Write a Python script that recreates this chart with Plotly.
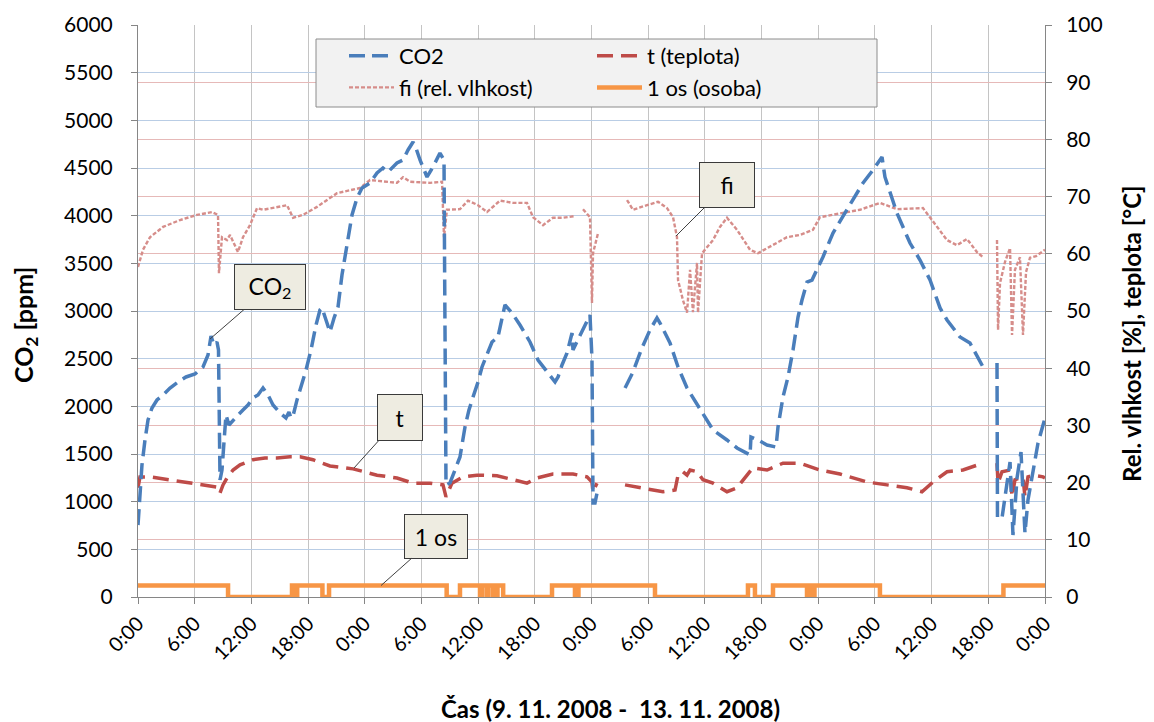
import plotly.graph_objects as go

# ---------------- data (time in hours from 9.11.2008 0:00) ----------------
co2_hours = [0.00, 0.21, 0.42, 0.74, 1.06, 1.48, 2.01, 2.65, 3.39, 4.23, 5.08, 6.03, 6.88, 7.41, 7.73, 8.04,
             8.36, 8.52, 8.68, 8.89, 9.10, 9.31, 9.63, 10.05, 10.58, 11.11, 11.64, 12.17, 12.70, 13.23, 13.76,
             14.29, 15.03, 15.66, 15.98, 16.19, 16.41, 16.83, 17.46, 17.78, 18.31, 18.84, 19.26, 19.48, 19.90,
             20.32, 20.75, 21.17, 21.59, 22.12, 22.65, 23.18, 23.71, 24.56, 25.30, 25.93, 26.46, 27.41, 28.05,
             28.58, 29.11, 29.42, 29.85, 30.59, 31.22, 31.96, 32.39, 32.45, 32.60, 33.02, 33.55, 34.08, 34.61,
             35.03, 35.46, 35.99, 36.41, 36.94, 37.47, 38.10, 38.53, 38.84, 39.59, 40.43, 41.49, 42.34, 43.40,
             44.14, 44.46, 44.88, 45.41, 45.94, 46.04, 46.57, 47.10, 47.84, 48.05, 48.16, 48.37, 48.69, None,
             51.55, 52.39, 53.34, 54.19, 54.93, 55.25, 56.31, 57.16, 58.11, 59.48, 60.86, 62.34, 63.40, 64.78,
             64.88, 65.62, 66.58, 67.53, 67.74, 68.27, 68.80, 69.33, 69.86, 70.28, 70.81, 71.34, 72.50, 73.56,
             75.04, 76.74, 77.79, 78.75, 79.06, 80.33, 81.71, 82.77, 83.83, 84.89, 85.63, 87.00, 88.06, 89.44,
             None, 90.92, 90.97, 91.45, 91.87, 92.30, 92.61, 93.04, 93.46, 93.88, 94.20, 94.73, 95.26, 96.00]
co2_ppm = [755, 1122, 1385, 1647, 1857, 1983, 2067, 2119, 2192, 2255, 2308, 2339, 2413, 2539, 2738, 2643,
           2675, 2591, 1227, 1332, 1647, 1909, 1804, 1857, 1909, 1962, 2014, 2088, 2119, 2192, 2119,
           2014, 1930, 1878, 1941, 1878, 1900, 2067, 2276, 2380, 2591, 2853, 3011, 3032, 2906,
           2780, 2927, 3042, 3378, 3693, 4007, 4186, 4290, 4343, 4448, 4500, 4458, 4553, 4584,
           4689, 4773, 4710, 4584, 4406, 4511, 4657, 4584, 3500, 1175, 1196, 1332, 1469, 1783,
           1962, 2098, 2255, 2413, 2539, 2675, 2727, 2906, 3063, 2979, 2853, 2675, 2486, 2350,
           2255, 2308, 2434, 2560, 2769, 2591, 2696, 2801, 2958, 2500, 986, 986, 1143, None,
           2192, 2360, 2612, 2801, 2927, 2874, 2664, 2413, 2192, 1972, 1752, 1647, 1563, 1490,
           1678, 1647, 1594, 1573, 1783, 2098, 2308, 2591, 2937, 3115, 3304, 3325, 3567, 3818,
           4060, 4343, 4479, 4616, 4406, 4028, 3713, 3535, 3325, 3032, 2906, 2727, 2664, 2413,
           None, 2455, 829, 829, 1122, 1416, 650, 1248, 1521, 671, 1018, 1301, 1615, 1878]

temp_hours = [0.00, 0.21, 1.27, 2.86, 4.45, 6.56, 8.47, 8.68, 9.00, 9.42, 10.06, 10.80, 12.17, 13.44, 14.71,
              16.09, 17.15, 18.52, 20.32, 22.76, 25.30, 27.41, 29.11, 30.91, 32.28, 32.60, 33.23, 34.40,
              35.88, 38.00, 39.69, 41.17, 42.23, 43.92, 46.04, 47.52, 48.05, 48.16, 48.58, None,
              51.55, 53.13, 54.51, 55.57, 56.84, 57.16, 57.68, 58.11, 58.43, 59.17, 59.80, 60.86, 62.34,
              63.40, 65.09, 66.58, 68.27, 70.07, 72.18, 74.30, 77.16, 79.28, 81.39, 82.98, 84.14, 85.63,
              87.32, 89.44, None, 90.92, 91.03, 91.45, 92.30, 92.51, 92.82, 93.67, 93.88, 94.20, 94.73,
              95.79, 96.00]
temp_c = [19.1, 21.0, 21.0, 20.6, 20.1, 19.6, 19.2, 18.2, 19.6, 20.8, 22.2, 23.1, 24.0, 24.3, 24.3,
          24.5, 24.5, 24.0, 22.9, 22.4, 21.3, 20.8, 19.9, 19.9, 19.6, 17.5, 19.9, 21.0,
          21.3, 21.2, 20.5, 19.9, 20.8, 21.5, 21.5, 21.0, 20.1, 18.4, 19.9, None,
          19.6, 19.2, 18.7, 18.4, 18.7, 21.3, 21.9, 21.3, 22.2, 21.9, 20.5, 19.9, 18.4,
          19.1, 22.6, 22.2, 23.4, 23.4, 22.2, 21.5, 20.1, 19.6, 19.1, 18.4, 20.1, 21.9,
          22.2, 23.4, None, 23.4, 19.9, 21.9, 22.2, 17.5, 20.5, 21.0, 17.5, 21.0, 21.3,
          21.0, 20.8]

rh_hours = [0.00, 0.53, 1.27, 2.65, 4.45, 6.24, 7.83, 8.47, 8.57, 8.89, 9.42, 9.74, 10.58, 11.11, 11.85,
            12.60, 13.23, 15.77, 16.41, 17.46, 18.95, 21.06, 23.50, 24.56, 27.41, 28.05, 28.79, 30.91,
            32.18, 32.39, 32.70, 34.08, 34.93, 35.99, 36.94, 38.32, 39.69, 41.17, 41.81, 42.87, 43.92,
            44.98, 46.25, None, 47.10, 47.84, 48.05, 48.16, 48.69, None,
            51.76, 52.39, 53.87, 55.04, 55.99, 56.63, 57.05, 57.16, 57.68, 58.11, 58.43, 58.74, 59.17,
            59.27, 59.70, 60.86, 61.60, 62.34, 63.40, 64.78, 65.62, 67.63, 68.69, 70.07, 71.44, 72.18,
            74.30, 76.42, 78.53, 80.33, 83.08, 83.83, 85.63, 86.68, 87.74, 88.80, 89.44, None,
            90.92, 91.03, 91.24, 91.77, 92.30, 92.51, 92.82, 93.35, 93.67, 93.99, 94.41, 95.05, 96.00]
rh_pct = [57.7, 60.7, 62.9, 64.7, 65.9, 66.8, 67.3, 66.8, 56.6, 62.9, 62.4, 63.3, 60.3, 62.9, 65.0,
          68.0, 67.7, 68.5, 66.3, 66.8, 68.2, 70.6, 71.5, 72.9, 72.4, 73.4, 72.6, 72.4,
          72.6, 62.9, 67.7, 67.8, 69.3, 68.5, 67.3, 69.3, 68.9, 68.9, 66.4, 65.0, 66.3,
          66.3, 66.6, None, 67.8, 66.4, 51.4, 60.1, 63.6, None,
          69.4, 67.7, 68.5, 69.1, 68.0, 66.4, 62.9, 55.4, 51.9, 49.7, 57.2, 49.8, 58.4,
          49.7, 60.1, 62.4, 64.7, 66.3, 64.2, 60.7, 60.1, 61.9, 62.9, 63.3, 64.2, 66.4,
          67.1, 67.7, 68.9, 67.8, 68.0, 66.3, 62.4, 61.5, 62.6, 60.3, 59.4, None,
          62.4, 46.7, 54.9, 58.6, 61.0, 45.8, 57.2, 59.4, 45.8, 56.8, 59.3, 59.6, 60.7]

occ_hours = [0.00, 9.53, 16.30, 16.70, 16.85, 19.52, 20.22, 32.67, 34.08, 36.20, 36.40, 36.90, 37.10, 37.60,
             38.05, 38.65, 43.82, 46.25, 46.62, 54.72, 64.56, 65.30, 67.21, 70.81, 71.00, 71.30, 71.60,
             78.53, 91.60, 96.00]
occ_state = [1, 0, 1, 0, 1, 0, 1, 0, 1, 0, 1, 0, 1, 0,
             1, 0, 1, 0, 1, 0, 1, 0, 1, 0, 1, 0, 1,
             0, 1, 1]

tick_hours = list(range(0, 97, 6))
tick_text = ["0:00", "6:00", "12:00", "18:00"] * 4 + ["0:00"]

FONT = "Lato"
BLUE = "#4A7EBB"
RED = "#BE4B48"
PINK = "#D68D8A"
ORANGE = "#F79646"

fig = go.Figure()
fig.add_trace(go.Scatter(x=rh_hours, y=rh_pct, name="fi (rel. vlhkost)", yaxis="y", mode="lines",
                         line=dict(color=PINK, width=2.4, dash="4px,2px"), connectgaps=False,
                         legend="legend", legendrank=2, legendgroup="g3"))
fig.add_trace(go.Scatter(x=temp_hours, y=temp_c, name="t (teplota)", yaxis="y", mode="lines",
                         line=dict(color=RED, width=3.5, dash="16px,8px"), connectgaps=False,
                         legend="legend2", legendrank=1, legendgroup="g2"))
fig.add_trace(go.Scatter(x=occ_hours, y=occ_state, name="1 os (osoba)", yaxis="y2", mode="lines",
                         line=dict(color=ORANGE, width=4.5, shape="hv"),
                         legend="legend2", legendrank=2, legendgroup="g4"))
fig.add_trace(go.Scatter(x=co2_hours, y=co2_ppm, name="CO2", yaxis="y3", mode="lines",
                         line=dict(color=BLUE, width=3.5, dash="16px,7px"), connectgaps=False,
                         legend="legend", legendrank=1, legendgroup="g1"))

axis_line = "#868686"
ytickfont = dict(family=FONT, size=21, color="#000000")
xtickfont = dict(family=FONT, size=20, color="#000000")

# page body has an 8px default margin; the figure is sized so the plot area
# lands at x 138..1045, y 25..597 of the browser window
OFF = 8
PL, PR, PT, PB = 138 - OFF, 1045 - OFF, 25 - OFF, 597 - OFF
W, H = 1154 - OFF, 722 - OFF


def px_x(px):
    return (px - OFF - PL) / (PR - PL)


def px_y(py):
    return (PB - (py - OFF)) / (PB - PT)


fig.update_layout(
    width=W, height=H,
    margin=dict(l=PL, r=W - PR, t=PT, b=H - PB, autoexpand=False),
    paper_bgcolor="white", plot_bgcolor="white",
    font=dict(family=FONT, size=20, color="#000000"),
    xaxis=dict(range=[0, 96], tickmode="array", tickvals=tick_hours, ticktext=tick_text,
               tickangle=-45, tickfont=xtickfont, showgrid=True, gridcolor="#C4C4C4", gridwidth=1,
               showline=True, linecolor=axis_line, linewidth=1, ticks="outside", ticklen=6,
               tickcolor=axis_line, zeroline=False),
    yaxis=dict(range=[0, 100], dtick=10, side="right", tickfont=ytickfont, showgrid=True,
               gridcolor="#E6B9B8", gridwidth=1, showline=True, linecolor=axis_line, linewidth=1,
               ticks="outside", ticklen=6, tickcolor=axis_line, zeroline=False, ticklabelstandoff=10),
    yaxis2=dict(range=[0, 50], overlaying="y", visible=False, showgrid=False),
    yaxis3=dict(range=[0, 6000], dtick=500, side="left", overlaying="y", tickfont=ytickfont,
                showgrid=True, gridcolor="#B9CDE5", gridwidth=1, showline=True, linecolor=axis_line,
                linewidth=1, ticks="outside", ticklen=6, tickcolor=axis_line, zeroline=False,
                ticklabelstandoff=14),
    legend=dict(x=px_x(344), y=px_y(35), xanchor="left", yanchor="top", bgcolor="rgba(0,0,0,0)",
                borderwidth=0, itemwidth=45, traceorder="grouped", tracegroupgap=0,
                font=dict(family=FONT, size=22, color="#000000")),
    legend2=dict(x=px_x(592), y=px_y(35), xanchor="left", yanchor="top", bgcolor="rgba(0,0,0,0)",
                 borderwidth=0, itemwidth=45, traceorder="grouped", tracegroupgap=0,
                 font=dict(family=FONT, size=22, color="#000000")),
    shapes=[dict(type="rect", xref="paper", yref="paper", x0=px_x(316), x1=px_x(877),
                 y0=px_y(107), y1=px_y(39), fillcolor="#F2F2F2",
                 line=dict(color="#8C8C8C", width=1), layer="above")],
    showlegend=True,
)

# axis titles
fig.add_annotation(xref="paper", yref="paper", x=px_x(25), y=px_y(325), xanchor="center", yanchor="middle",
                   textangle=-90, showarrow=False, text="<b>CO<sub>2</sub> [ppm]</b>",
                   font=dict(family=FONT, size=25, color="#000000"))
fig.add_annotation(xref="paper", yref="paper", x=px_x(1131), y=px_y(334), xanchor="center", yanchor="middle",
                   textangle=-90, showarrow=False, text="<b>Rel. vlhkost [%], teplota [°C]</b>",
                   font=dict(family=FONT, size=24, color="#000000"))
fig.add_annotation(xref="paper", yref="paper", x=px_x(610), y=px_y(708), xanchor="center", yanchor="middle",
                   showarrow=False, text="<b>Čas (9. 11. 2008 -  13. 11. 2008)</b>",
                   font=dict(family=FONT, size=24, color="#000000"))

callout = dict(showarrow=True, arrowhead=0, arrowwidth=1, arrowcolor="#404040", standoff=0,
               bgcolor="#EEECE1", bordercolor="#3A3A3A", borderwidth=1,
               font=dict(family=FONT, size=23, color="#000000"), xref="x")
fig.add_annotation(x=7.62, y=2706, yref="y3", text="CO<sub>2</sub>", ax=60, ay=-52,
                   width=68, height=42, **callout)
fig.add_annotation(x=22.86, y=22.55, yref="y", text="t", ax=46, ay=-51,
                   width=42, height=43, **callout)
fig.add_annotation(x=56.94, y=63.1, yref="y", text="fi", ax=51, ay=-51,
                   width=52, height=42, **callout)
fig.add_annotation(x=25.72, y=1, yref="y2", text="1 os", ax=55, ay=-49,
                   width=60, height=41, **callout)

fig.write_html("out.html")
